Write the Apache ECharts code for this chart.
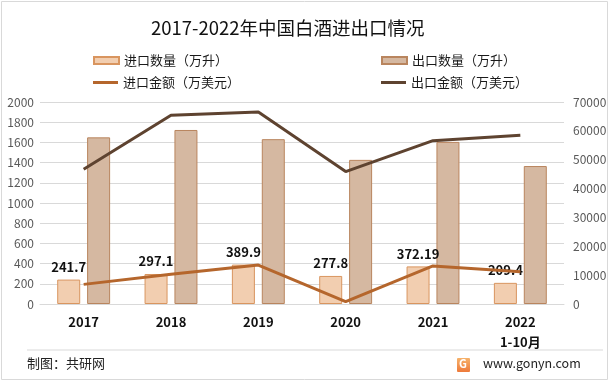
<!DOCTYPE html>
<html><head><meta charset="utf-8">
<script src="https://cdn.jsdelivr.net/npm/echarts@6/dist/echarts.min.js"></script>
<style>html,body{margin:0;padding:0;background:#fff}#c{width:611px;height:384px}</style>
</head><body><div id="c"></div>
<script>
const categories = ['2017','2018','2019','2020','2021','2022\n1-10月'];
const importQty = [241.7, 297.1, 389.9, 277.8, 372.19, 209.4];
const exportQty = [1650, 1723, 1632, 1427, 1605, 1366];
const importVal = [6800, 10300, 13500, 800, 13200, 11200];
const exportVal = [46700, 65400, 66500, 45900, 56600, 58500];
const leftTicks = {min: 0, max: 2000, interval: 200};
const rightTicks = {min: 0, max: 70000, interval: 10000};
const names = ['进口数量（万升）','出口数量（万升）','进口金额（万美元）','出口金额（万美元）'];

const FONT = '"Noto Sans CJK SC", "Noto Sans", sans-serif';
const chart = echarts.init(document.getElementById('c'), null, {renderer: 'canvas'});
const legendText = {fontSize: 13, color: '#1a1a1a', fontFamily: FONT};
function lg(name, left, top, h) {
  return {data: [name], left: left, top: top, padding: 0, itemWidth: 25, itemHeight: h,
    icon: 'rect', textStyle: legendText, selectedMode: false};
}
const plain = v => String(v);
chart.setOption({
  animation: false,
  textStyle: {fontFamily: FONT},
  title: {text: '2017-2022年中国白酒进出口情况', left: 151, top: 19, padding: 0,
    textStyle: {fontSize: 18.5, fontWeight: 'normal', color: '#111', fontFamily: FONT}},
  legend: [
    lg(names[0], 93, 54, 7),
    lg(names[1], 381, 54, 7),
    lg(names[2], 93, 76, 3),
    lg(names[3], 381, 76, 3)
  ],
  grid: {left: 40, right: 47, top: 102, bottom: 80},
  xAxis: {type: 'category', data: categories,
    axisLine: {lineStyle: {color: '#d9d9d9'}}, axisTick: {show: false},
    axisLabel: {fontWeight: 'bold', fontSize: 13, color: '#111', lineHeight: 20, margin: 8, interval: 0}},
  yAxis: [
    {type: 'value', min: leftTicks.min, max: leftTicks.max, interval: leftTicks.interval,
      axisLabel: {color: '#595959', fontSize: 12, margin: 6, formatter: plain},
      axisLine: {show: false}, axisTick: {show: false},
      splitLine: {lineStyle: {color: '#d9d9d9'}}},
    {type: 'value', min: rightTicks.min, max: rightTicks.max, interval: rightTicks.interval,
      axisLabel: {color: '#595959', fontSize: 12, margin: 9, formatter: plain},
      axisLine: {show: false}, axisTick: {show: false}, splitLine: {show: false}}
  ],
  series: [
    {name: names[0], type: 'bar', data: importQty, barWidth: 23, barGap: '30%',
      itemStyle: {color: '#F2CEB0', borderColor: '#D9955F', borderWidth: 1},
      label: {show: true, position: 'top', distance: 6, fontWeight: 'bold', fontSize: 13, color: '#111'},
      z: 2},
    {name: names[1], type: 'bar', data: exportQty, barWidth: 23,
      itemStyle: {color: '#D5B8A1', borderColor: '#B9855E', borderWidth: 1}, z: 2},
    {name: names[2], type: 'line', yAxisIndex: 1, data: importVal, showSymbol: false, symbol: 'none',
      lineStyle: {color: '#B5662C', width: 3}, itemStyle: {color: '#B5662C'}, z: 3},
    {name: names[3], type: 'line', yAxisIndex: 1, data: exportVal, showSymbol: false, symbol: 'none',
      lineStyle: {color: '#5E4330', width: 3}, itemStyle: {color: '#5E4330'}, z: 3}
  ],
  graphic: [
    {type: 'rect', shape: {x: 1.5, y: 1.5, width: 606, height: 378}, style: {fill: 'none', stroke: '#d9d9d9', lineWidth: 1}, z: -1},
    {type: 'line', shape: {x1: 27, y1: 350, x2: 603, y2: 350}, style: {stroke: '#d9d9d9', lineWidth: 1}},
    {type: 'text', left: 27, top: 357, style: {text: '制图：共研网', fontSize: 13, fill: '#222', fontFamily: FONT}},
    {type: 'rect', shape: {x: 457, y: 358, width: 13, height: 14, r: 1},
      style: {fill: new echarts.graphic.LinearGradient(0, 0, 0, 1, [{offset: 0, color: '#F6B26B'}, {offset: 1, color: '#EE7A3A'}])}},
    {type: 'text', left: 459, top: 358, style: {text: 'G', fontSize: 11, fontWeight: 'bold', fill: '#fff', fontFamily: FONT}},
    {type: 'text', left: 483, top: 357, style: {text: 'www.gonyn.com', fontSize: 12.5, fill: '#222', fontFamily: FONT}}
  ]
});
</script></body></html>
